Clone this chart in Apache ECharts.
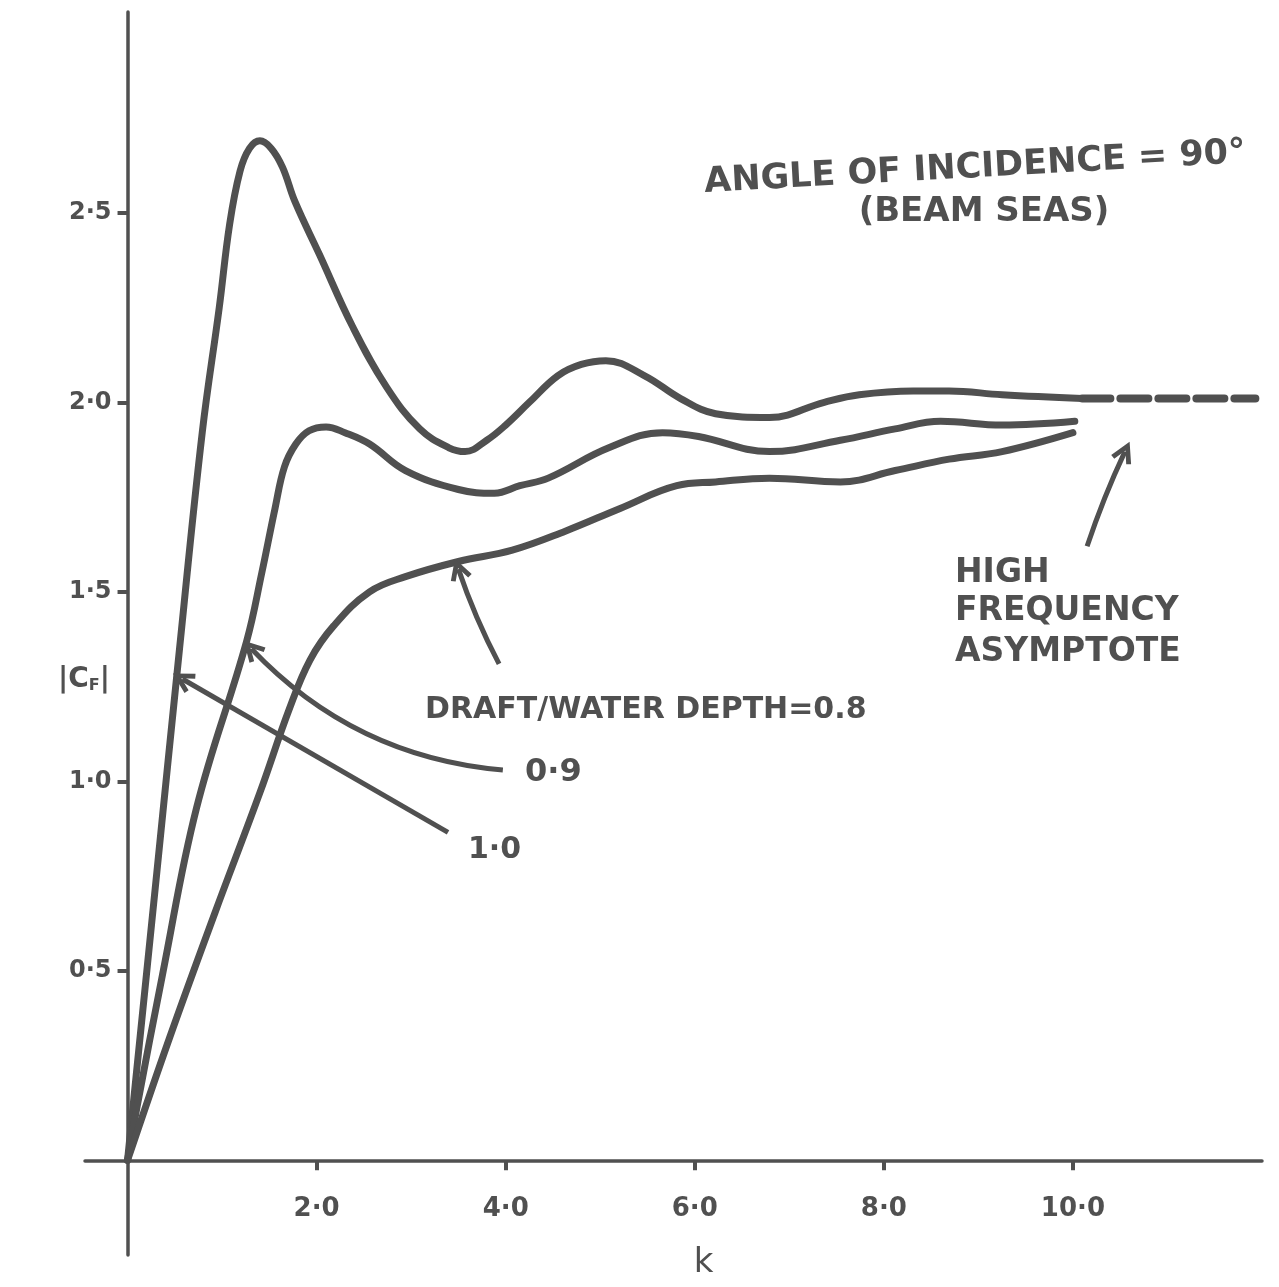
<!DOCTYPE html>
<html>
<head>
<meta charset="utf-8">
<script src="https://cdn.jsdelivr.net/npm/echarts@6/dist/echarts.min.js"></script>
<style>
  html, body { margin: 0; padding: 0; background: #fff; }
  #main { width: 1279px; height: 1287px; }
</style>
</head>
<body>
<div id="main"></div>
<script>
// |C_F| vs k (beam seas)
var k10 = [0, 0.31, 0.55, 0.79, 0.97, 1.08, 1.19, 1.29, 1.40, 1.52, 1.64, 1.77, 2.03, 2.38, 2.74, 3.09, 3.40, 3.57, 3.80, 4.00, 4.25, 4.55, 4.80, 5.06, 5.47, 5.85, 6.22, 6.79, 7.37, 7.74, 8.31, 8.69, 9.25, 10.10];
var cf10 = [0, 0.76, 1.35, 1.92, 2.25, 2.47, 2.61, 2.67, 2.69, 2.67, 2.62, 2.53, 2.39, 2.20, 2.04, 1.93, 1.88, 1.87, 1.90, 1.94, 2.00, 2.07, 2.10, 2.11, 2.07, 2.01, 1.97, 1.96, 2.00, 2.02, 2.03, 2.03, 2.02, 2.01];

var k09 = [0, 0.10, 0.37, 0.73, 1.26, 1.42, 1.56, 1.66, 1.78, 1.92, 2.10, 2.30, 2.56, 2.94, 3.50, 3.88, 4.15, 4.45, 5.09, 5.66, 6.04, 6.79, 7.54, 8.12, 8.60, 9.25, 10.02];
var cf09 = [0, 0.14, 0.49, 0.93, 1.37, 1.55, 1.72, 1.83, 1.89, 1.925, 1.935, 1.92, 1.89, 1.82, 1.77, 1.76, 1.78, 1.80, 1.88, 1.92, 1.91, 1.87, 1.90, 1.93, 1.95, 1.94, 1.95];

var k08 = [0, 0.44, 0.92, 1.40, 1.71, 1.93, 2.18, 2.56, 2.94, 3.50, 4.07, 4.63, 5.21, 5.81, 6.22, 6.79, 7.54, 8.12, 8.69, 9.25, 10.0];
var cf08 = [0, 0.32, 0.65, 0.97, 1.19, 1.32, 1.41, 1.50, 1.54, 1.58, 1.61, 1.66, 1.72, 1.78, 1.79, 1.80, 1.79, 1.82, 1.85, 1.87, 1.92];

// high frequency asymptote (dashed)
var asymK = [10.1, 11.93];
var asymCf = [2.01, 2.01];

var xTicks = [2, 4, 6, 8, 10];
var yTicks = [0.5, 1.0, 1.5, 2.0, 2.5];

// annotation arrows: [tail, tip, curveness]
var arrows = [
  [[3.39, 0.865], [0.58, 1.27], 0],
  [[3.97, 1.03], [1.31, 1.35], 0.19],
  [[3.93, 1.31], [3.50, 1.56], 0.04],
  [[10.15, 1.62], [10.55, 1.87], 0.03]
];

var INK = '#505050';
var FONT = 'DejaVu Sans';
var CHEVRON = 'path://M6,0 L12,11 L9.6,12.2 L6,5.4 L2.4,12.2 L0,11 Z';

var W = 1279, H = 1287;
var GRID = { left: 85, right: 17, top: 12, bottom: 32 };
var X_MIN = -0.45, X_MAX = 12, Y_MIN = -0.25, Y_MAX = 3.03;
// axes cross at the origin, inside the grid
var xAxisOffset = -(0 - Y_MIN) / (Y_MAX - Y_MIN) * (H - GRID.top - GRID.bottom);
var yAxisOffset = -(0 - X_MIN) / (X_MAX - X_MIN) * (W - GRID.left - GRID.right);

function pairs(xs, ys) {
  return xs.map(function (x, i) { return [x, ys[i]]; });
}
function dotFmt(v) {
  return v.toFixed(1).replace('.', '\u00b7');
}

var chart = echarts.init(document.getElementById('main'));

function curve(name, xs, ys) {
  return {
    name: name,
    type: 'line',
    data: pairs(xs, ys),
    smooth: 0.4,
    showSymbol: false,
    lineStyle: { color: INK, width: 7, cap: 'round', join: 'round' },
    z: 3
  };
}

var option = {
  backgroundColor: '#fff',
  animation: false,
  grid: { left: GRID.left, right: GRID.right, top: GRID.top, bottom: GRID.bottom, containLabel: false, outerBoundsMode: 'none' },
  xAxis: {
    type: 'value',
    min: X_MIN,
    max: X_MAX,
    offset: xAxisOffset,
    name: 'k',
    nameLocation: 'middle',
    nameGap: 86,
    nameTextStyle: { fontSize: 34, color: INK, fontFamily: FONT, padding: [0, 0, 0, 60] },
    axisLine: { onZero: false, lineStyle: { color: INK, width: 3.5 } },
    axisTick: { customValues: xTicks, length: 10, lineStyle: { color: INK, width: 4 } },
    axisLabel: { customValues: xTicks, formatter: dotFmt, margin: 36, fontSize: 26, fontWeight: 'bold', color: INK, fontFamily: FONT },
    splitLine: { show: false }
  },
  yAxis: {
    type: 'value',
    min: Y_MIN,
    max: Y_MAX,
    offset: yAxisOffset,
    axisLine: { onZero: false, lineStyle: { color: INK, width: 3.5 } },
    axisTick: { customValues: yTicks, length: 10, lineStyle: { color: INK, width: 4 } },
    axisLabel: { customValues: yTicks, formatter: dotFmt, margin: 16, fontSize: 24, fontWeight: 'bold', color: INK, fontFamily: FONT },
    splitLine: { show: false }
  },
  series: [
    curve('1.0', k10, cf10),
    curve('0.9', k09, cf09),
    curve('0.8', k08, cf08),
    {
      name: 'asymptote',
      type: 'line',
      data: pairs(asymK, asymCf),
      showSymbol: false,
      lineStyle: { color: INK, width: 8, type: [28, 10], cap: 'round' }
    },
    {
      type: 'lines',
      coordinateSystem: 'cartesian2d',
      symbol: ['none', CHEVRON],
      symbolSize: 22,
      lineStyle: { color: INK, width: 5, opacity: 1 },
      data: arrows.map(function (a) {
        return { coords: [a[0], a[1]], lineStyle: { curveness: a[2] } };
      }),
      z: 4
    }
  ],
  graphic: [
    { type: 'text', x: 975, y: 168, rotation: 0.055,
      style: { text: 'ANGLE OF INCIDENCE = 90\u00b0', font: 'bold 35px ' + FONT, fill: INK, align: 'center', verticalAlign: 'middle' } },
    { type: 'text', x: 984, y: 212,
      style: { text: '(BEAM SEAS)', font: 'bold 34px ' + FONT, fill: INK, align: 'center', verticalAlign: 'middle' } },
    { type: 'text', x: 955, y: 573,
      style: { text: 'HIGH', font: 'bold 33px ' + FONT, fill: INK, align: 'left', verticalAlign: 'middle' } },
    { type: 'text', x: 955, y: 611,
      style: { text: 'FREQUENCY', font: 'bold 33px ' + FONT, fill: INK, align: 'left', verticalAlign: 'middle' } },
    { type: 'text', x: 955, y: 652,
      style: { text: 'ASYMPTOTE', font: 'bold 33px ' + FONT, fill: INK, align: 'left', verticalAlign: 'middle' } },
    { type: 'text', x: 425, y: 710,
      style: { text: 'DRAFT/WATER DEPTH=0.8', font: 'bold 30px ' + FONT, fill: INK, align: 'left', verticalAlign: 'middle' } },
    { type: 'text', x: 525, y: 773,
      style: { text: '0\u00b79', font: 'bold 32px ' + FONT, fill: INK, align: 'left', verticalAlign: 'middle' } },
    { type: 'text', x: 468, y: 850,
      style: { text: '1\u00b70', font: 'bold 30px ' + FONT, fill: INK, align: 'left', verticalAlign: 'middle' } },
    { type: 'text', x: 58, y: 680,
      style: {
        text: '|C{s|F}|',
        font: 'bold 28px ' + FONT, fill: INK, align: 'left', verticalAlign: 'middle',
        rich: { s: { fontSize: 16, fontWeight: 'bold', fontFamily: FONT, fill: INK, verticalAlign: 'bottom', padding: [12, 0, 0, 0] } }
      } }
  ]
};

chart.setOption(option);
</script>
</body>
</html>
